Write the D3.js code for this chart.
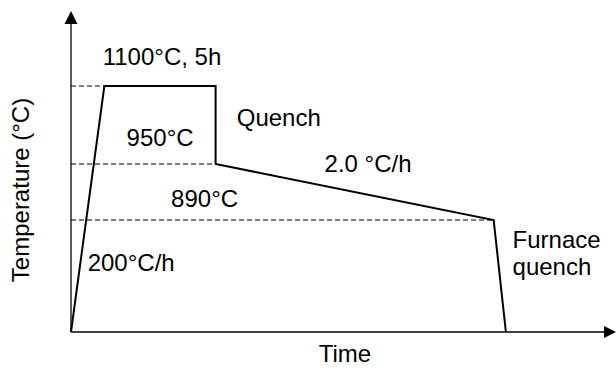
<!DOCTYPE html>
<html><head><meta charset="utf-8">
<script src="https://cdn.jsdelivr.net/npm/d3@7"></script>
<style>body{margin:0;background:#fff}svg{display:block}text{font-family:"Liberation Sans",Arial,sans-serif;font-size:24px;fill:#000}</style>
</head><body><svg id="c" width="616" height="373"></svg>
<script>
// schematic heat-treatment profile
const stepTimes = [0, 3, 13, 13, 38, 39.1];          // schematic time units
const stepTemps = [20, 1100, 1100, 950, 890, 20];    // °C
const levelTemps = [1100, 950, 890];                 // dashed reference levels
const levelEndIdx = [1, 3, 4];                       // profile point where each dashed level ends
const labels = [
  {text: "1100°C, 5h", t: 2.85, T: 1140},
  {text: "950°C", t: 5.0, T: 985},
  {text: "Quench", t: 14.9, T: 1023},
  {text: "2.0 °C/h", t: 22.8, T: 941},
  {text: "890°C", t: 9.0, T: 904},
  {text: "200°C/h", t: 1.5, T: 494},
  {text: "Furnace", t: 39.7, T: 672},
  {text: "quench", t: 39.7, T: 463}
];
const xTitle = "Time";
const yTitle = "Temperature (°C)";

const svg = d3.select("#c");
const x = d3.scaleLinear().domain([0, 49]).range([71, 616]);
const y = d3.scaleLinear().domain([20, 890, 950, 1100, 1200]).range([332, 220, 164, 86, 34]);

// axes with arrow heads
svg.append("line").attr("x1", x(0)).attr("x2", 606).attr("y1", y(20)).attr("y2", y(20))
  .attr("stroke", "#000").attr("stroke-width", 1.6);
svg.append("line").attr("x1", x(0)).attr("x2", x(0)).attr("y1", y(20)).attr("y2", 22)
  .attr("stroke", "#333").attr("stroke-width", 1.6);
svg.append("path").attr("d", `M616,${y(20)} L604,${y(20)-6} L604,${y(20)+6} Z`).attr("fill", "#000");
svg.append("path").attr("d", `M${x(0)},11 L${x(0)-6.5},24 L${x(0)+6.5},24 Z`).attr("fill", "#000");

// dashed levels
levelTemps.forEach((T, i) => {
  svg.append("line").attr("x1", x(0)).attr("x2", x(stepTimes[levelEndIdx[i]]))
    .attr("y1", y(T)).attr("y2", y(T))
    .attr("stroke", "#000").attr("stroke-width", 1).attr("stroke-dasharray", "5,3");
});

// profile
const line = d3.line().x((d, i) => x(stepTimes[i])).y(d => y(d));
svg.append("path").datum(stepTemps).attr("d", line)
  .attr("fill", "none").attr("stroke", "#000").attr("stroke-width", 2).attr("stroke-linejoin", "miter");

// labels
svg.selectAll("text.lab").data(labels).join("text").attr("class", "lab")
  .attr("x", d => x(d.t)).attr("y", d => y(d.T)).text(d => d.text);

svg.append("text").attr("x", 345).attr("y", 362).attr("text-anchor", "middle").text(xTitle);
svg.append("text").attr("transform", "translate(29,190) rotate(-90)").attr("text-anchor", "middle").text(yTitle);
</script></body></html>
